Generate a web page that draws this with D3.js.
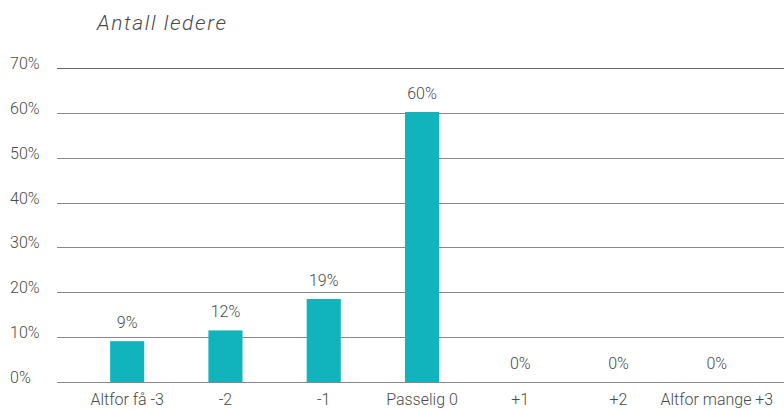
<!DOCTYPE html>
<html><head><meta charset="utf-8">
<script src="https://cdn.jsdelivr.net/npm/d3@7"></script>
<style>body{margin:0;background:#fff;} svg{display:block;} text{font-family:Roboto,"Liberation Sans",sans-serif;font-weight:300;fill:#4a4a4a;}</style>
</head><body><svg id="c" width="784" height="410"></svg>
<script>
const categories = ["Altfor få -3","-2","-1","Passelig 0","+1","+2","Altfor mange +3"];
const values = [9.1, 11.5, 18.5, 60.2, 0, 0, 0];
const valueLabels = ["9%","12%","19%","60%","0%","0%","0%"];
const yTicks = [0,10,20,30,40,50,60,70];
const title = "Antall ledere";

const svg = d3.select("#c");
const y = d3.scaleLinear().domain([0,70]).range([382,68]);
const x = d3.scaleBand().domain(categories).range([78,766]).paddingInner(0.653).paddingOuter(0.327);

svg.append("text").attr("x",97).attr("y",30).attr("font-size",21).attr("font-style","italic")
  .attr("letter-spacing",1.6).text(title);

const yAxis = svg.append("g");
yAxis.selectAll("line").data(yTicks).join("line")
  .attr("x1",57).attr("x2",784).attr("y1",d=>Math.round(y(d))+0.5).attr("y2",d=>Math.round(y(d))+0.5)
  .attr("stroke",d=>d===70?"#666":"#888").attr("stroke-width",1);
yAxis.selectAll("text").data(yTicks).join("text")
  .attr("x",10).attr("y",d=>y(d)+1).attr("font-size",16).text(d=>d+"%");

svg.selectAll("rect.bar").data(values).join("rect").attr("class","bar")
  .attr("x",(d,i)=>x(categories[i])).attr("width",x.bandwidth())
  .attr("y",d=>y(d)).attr("height",d=>y(0)-y(d)).attr("fill","#11b3bc");

svg.selectAll("text.vl").data(values).join("text").attr("class","vl")
  .attr("x",(d,i)=>x(categories[i])+x.bandwidth()/2).attr("y",d=>y(d)-13)
  .attr("text-anchor","middle").attr("font-size",16).text((d,i)=>valueLabels[i]);

svg.selectAll("text.xl").data(categories).join("text").attr("class","xl")
  .attr("x",d=>x(d)+x.bandwidth()/2).attr("y",405)
  .attr("text-anchor","middle").attr("font-size",16).text(d=>d);
</script></body></html>
